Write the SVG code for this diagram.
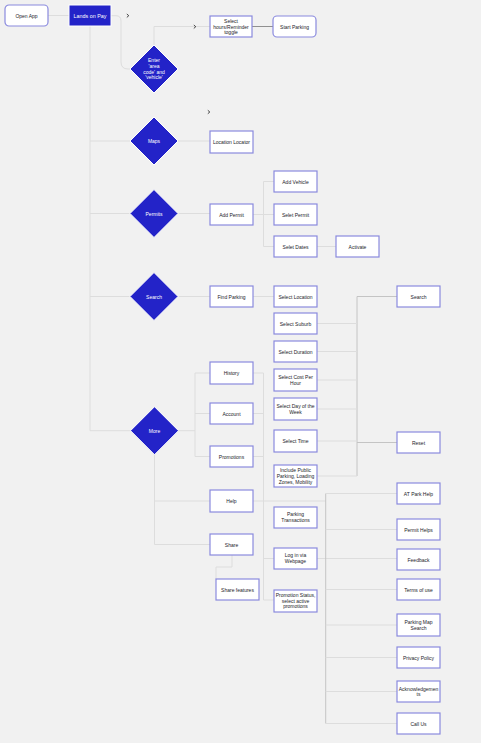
<svg xmlns="http://www.w3.org/2000/svg" width="481" height="743" viewBox="0 0 481 743">
<style>
.bg{fill:#f1f1f1}
.box{fill:#fff;stroke:#8a8ade;stroke-width:1.2}
.halo{fill:none;stroke:#fff;stroke-width:3.2}
.blue{fill:#2323c8;stroke:#fff;stroke-width:1}
.t{font-family:"Liberation Sans",Arial,sans-serif;font-size:5px;fill:#1c1c2a;text-anchor:middle;dominant-baseline:central}
.w{fill:#fff}
.c{fill:none;stroke:#dddddd;stroke-width:1}
.c2{fill:none;stroke:#c4c4c4;stroke-width:1}
.c3{fill:none;stroke:#777;stroke-width:0.8}
.chev{fill:none;stroke:#333;stroke-width:0.9}
</style>
<rect class="bg" x="0" y="0" width="481" height="743"/>
<g id="connectors">
<path class="c" d="M48,15.5 H69"/>
<path class="c" d="M111,15.7 H116 Q121,15.7 121,21 V62 Q121,69 128,69 H130"/>
<path class="c" d="M154,45 V26.5 H210"/>
<path class="c3" d="M252,26.5 H273"/>
<path class="c" d="M90,26 V430.7 H130 M90,141 H130 M90,213.5 H130 M90,296.5 H130"/>
<path class="c" d="M178,141 H210 M178,213.5 H210 M178,296.5 H210"/>
<path class="c" d="M253,214.5 H274 M263.5,181.5 V246.5 M263.5,181.5 H274 M263.5,246.5 H274 M317,246.5 H336"/>
<path class="c" d="M253,296.5 H274"/>
<path class="c2" d="M357,296.5 H397 M357,296.5 V476 M357,442.5 H397"/>
<path class="c" d="M317,323.5 H357 M317,351.5 H357 M317,380 H357 M317,409 H357 M317,441 H357 M317,476 H357"/>
<path class="c" d="M178,430.7 H195 M195,373 V456.5 M195,373 H210 M195,413.5 H210 M195,456.5 H210"/>
<path class="c" d="M154.5,455 V544.5 H210 M154.5,501 H210"/>
<path class="c" d="M232,555 V567 H216 V579"/>
<path class="c" d="M253,373 H263.5 M253,413.5 H263.5 M253,456.5 H263.5 M263.5,373 V600 H274 M263.5,558.5 H397"/>
<path class="c" d="M253,501 H325.7"/>
<path class="c2" d="M325.7,493.5 V723.5"/>
<path class="c" d="M325.7,493.5 H397 M325.7,529.5 H397 M325.7,589.5 H397 M325.7,625 H397 M325.7,657.5 H397 M325.7,691.5 H397 M325.7,723.5 H397"/>
<path class="chev" d="M126.8,14 L128.8,15.7 L126.8,17.4 M193.8,25 L195.8,26.7 L193.8,28.4 M207.8,110.3 L209.8,112 L207.8,113.7"/>
</g>
<g id="open-app"><rect class="box" x="5" y="5" width="43" height="21" rx="4"/><text class="t" x="26.5" y="15.5">Open App</text></g>
<g id="lands-on-pay"><rect class="blue" x="69" y="5" width="42" height="21"/><text class="t w" x="90" y="15.5" style="font-size:5.4px">Lands on Pay</text></g>
<g id="enter"><path class="blue" d="M154,45 L178,69 L154,93 L130,69 Z"/><text class="t w"><tspan x="154" y="60.3">Enter</tspan><tspan x="154" y="66">'area</tspan><tspan x="154" y="71.5">code' and</tspan><tspan x="154" y="77">'vehicle'</tspan></text></g>
<g id="select-hours"><rect class="box" x="210" y="16" width="42" height="21"/><text class="t"><tspan x="231" y="20.7">Select</tspan><tspan x="231" y="26.5">hours/Reminder</tspan><tspan x="231" y="32.3">toggle</tspan></text></g>
<g id="start-parking"><rect class="box" x="273" y="16" width="43" height="21" rx="4"/><text class="t" x="294.5" y="26.5">Start Parking</text></g>
<g id="maps"><path class="blue" d="M154,117 L178,141 L154,165 L130,141 Z"/><text class="t w" x="154" y="141">Maps</text></g>
<g id="location-locator"><rect class="box" x="210" y="131" width="43" height="22"/><text class="t" x="231.5" y="142">Location Locator</text></g>
<g id="permits"><path class="blue" d="M154,189.5 L178,213.5 L154,237.5 L130,213.5 Z"/><text class="t w" x="154" y="213.5">Permits</text></g>
<g id="add-permit"><rect class="box" x="210" y="204" width="43" height="21"/><text class="t" x="231.5" y="214.5">Add Permit</text></g>
<g id="add-vehicle"><rect class="box" x="274" y="171" width="43" height="21"/><text class="t" x="295.5" y="181.5">Add Vehicle</text></g>
<g id="select-permit"><rect class="box" x="274" y="204" width="43" height="21"/><text class="t" x="295.5" y="214.5">Selet Permit</text></g>
<g id="select-dates"><rect class="box" x="274" y="236" width="43" height="21"/><text class="t" x="295.5" y="246.5">Selet Dates</text></g>
<g id="activate"><rect class="box" x="336" y="236" width="43" height="21"/><text class="t" x="357.5" y="246.5">Activate</text></g>
<g id="search-d"><path class="blue" d="M154,272.5 L178,296.5 L154,320.5 L130,296.5 Z"/><text class="t w" x="154" y="296.5">Search</text></g>
<g id="find-parking"><rect class="box" x="210" y="286" width="43" height="21"/><text class="t" x="231.5" y="296.5">Find Parking</text></g>
<g id="select-location"><rect class="box" x="274" y="286" width="43" height="21"/><text class="t" x="295.5" y="296.5">Select Location</text></g>
<g id="select-suburb"><rect class="box" x="274" y="313" width="43" height="21"/><text class="t" x="295.5" y="323.5">Select Suburb</text></g>
<g id="select-duration"><rect class="box" x="274" y="341" width="43" height="21"/><text class="t" x="295.5" y="351.5">Select Duration</text></g>
<g id="select-cost"><rect class="box" x="274" y="369" width="43" height="22"/><text class="t"><tspan x="295.5" y="377">Select Cost Per</tspan><tspan x="295.5" y="382.6">Hour</tspan></text></g>
<g id="select-day"><rect class="box" x="274" y="398" width="43" height="22"/><text class="t"><tspan x="295.5" y="406.3">Select Day of the</tspan><tspan x="295.5" y="412">Week</tspan></text></g>
<g id="select-time"><rect class="box" x="274" y="430" width="43" height="22"/><text class="t" x="295.5" y="441">Select Time</text></g>
<g id="include-public"><rect class="box" x="274" y="465" width="43" height="22"/><text class="t"><tspan x="295.5" y="469.9">Include Public</tspan><tspan x="295.5" y="475.8">Parking, Loading</tspan><tspan x="295.5" y="481.7">Zones, Mobility</tspan></text></g>
<g id="search-box"><rect class="box" x="397" y="286" width="43" height="21"/><text class="t" x="418.5" y="296.5">Search</text></g>
<g id="reset"><rect class="box" x="397" y="432" width="43" height="21"/><text class="t" x="418.5" y="442.5">Reset</text></g>
<g id="more"><path class="blue" d="M154.5,406.7 L178.5,430.7 L154.5,454.7 L130.5,430.7 Z"/><text class="t w" x="154.5" y="430.7">More</text></g>
<g id="history"><rect class="box" x="210" y="362" width="43" height="22"/><text class="t" x="231.5" y="373">History</text></g>
<g id="account"><rect class="box" x="210" y="403" width="43" height="21"/><text class="t" x="231.5" y="413.5">Account</text></g>
<g id="promotions"><rect class="box" x="210" y="446" width="43" height="21"/><text class="t" x="231.5" y="456.5">Promotions</text></g>
<g id="help"><rect class="box" x="210" y="490" width="43" height="22"/><text class="t" x="231.5" y="501">Help</text></g>
<g id="share"><rect class="box" x="210" y="534" width="43" height="21"/><text class="t" x="231.5" y="544.5">Share</text></g>
<g id="share-features"><rect class="box" x="216" y="579" width="43" height="21"/><text class="t" x="237.5" y="589.5">Share features</text></g>
<g id="parking-transactions"><rect class="box" x="274" y="507" width="43" height="21"/><text class="t"><tspan x="295.5" y="514.2">Parking</tspan><tspan x="295.5" y="520">Transactions</tspan></text></g>
<g id="log-in"><rect class="box" x="274" y="548" width="43" height="21"/><text class="t"><tspan x="295.5" y="554.9">Log in via</tspan><tspan x="295.5" y="561">Webpage</tspan></text></g>
<g id="promotion-status"><rect class="box" x="274" y="590" width="43" height="22"/><text class="t"><tspan x="295.5" y="595.2">Promotion Status,</tspan><tspan x="295.5" y="600.8">select active</tspan><tspan x="295.5" y="606.4">promotions</tspan></text></g>
<g id="at-park-help"><rect class="box" x="397" y="483" width="43" height="21"/><text class="t" x="418.5" y="493.5">AT Park Help</text></g>
<g id="permit-helps"><rect class="box" x="397" y="519" width="43" height="21"/><text class="t" x="418.5" y="529.5">Permit Helps</text></g>
<g id="feedback"><rect class="box" x="397" y="549" width="43" height="21"/><text class="t" x="418.5" y="559.5">Feedback</text></g>
<g id="terms"><rect class="box" x="397" y="579" width="43" height="21"/><text class="t" x="418.5" y="589.5">Terms of use</text></g>
<g id="parking-map-search"><rect class="box" x="397" y="614" width="43" height="22"/><text class="t"><tspan x="418.5" y="622">Parking Map</tspan><tspan x="418.5" y="627.6">Search</tspan></text></g>
<g id="privacy-policy"><rect class="box" x="397" y="647" width="43" height="21"/><text class="t" x="418.5" y="657.5">Privacy Policy</text></g>
<g id="acknowledgements"><rect class="box" x="397" y="681" width="43" height="21"/><text class="t"><tspan x="418.5" y="688.8">Acknowledgemen</tspan><tspan x="418.5" y="694.4">ts</tspan></text></g>
<g id="call-us"><rect class="box" x="397" y="713" width="43" height="21"/><text class="t" x="418.5" y="723.5">Call Us</text></g>
</svg>
